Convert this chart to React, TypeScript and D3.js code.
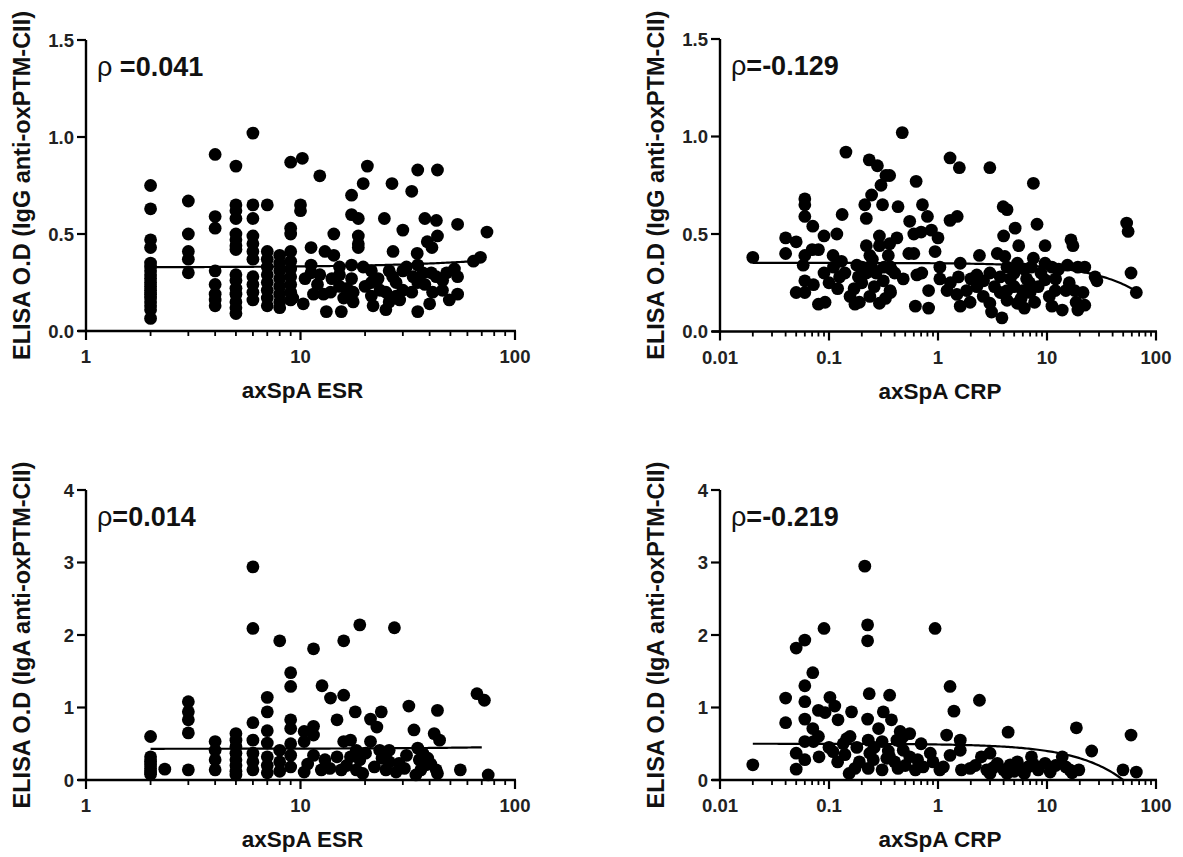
import React from 'react';
import * as d3 from 'd3';

type Pt = [number, number];

// Panel A: ESR vs IgG
const esrIgG: Pt[] = [
  [2, 0.75], [2, 0.63], [2, 0.47], [2, 0.43], [2, 0.35], [2, 0.33], [2, 0.31], [2, 0.29], [2, 0.27], [2, 0.25],
  [2, 0.23], [2, 0.21], [2, 0.19], [2, 0.17], [2, 0.15], [2, 0.13], [2, 0.11], [2, 0.065],
  [3, 0.67], [3, 0.5], [3, 0.41], [3, 0.37], [3, 0.3],
  [4, 0.91], [4, 0.59], [4, 0.53], [4, 0.31], [4, 0.24], [4, 0.19], [4, 0.16], [4, 0.13],
  [5, 0.85], [5, 0.65], [5, 0.62], [5, 0.58], [5, 0.5], [5, 0.47], [5, 0.44], [5, 0.42], [5, 0.29], [5, 0.26],
  [5, 0.22], [5, 0.19], [5, 0.15], [5, 0.12], [5, 0.09],
  [6, 1.02], [6, 0.65], [6, 0.58], [6, 0.49], [6, 0.45], [6, 0.41], [6, 0.37], [6, 0.28], [6, 0.24], [6, 0.2], [6, 0.16],
  [7, 0.65], [7, 0.41], [7, 0.37], [7, 0.33], [7, 0.29], [7, 0.25], [7, 0.21], [7, 0.17], [7, 0.13],
  [8, 0.39], [8, 0.35], [8, 0.31], [8, 0.27], [8, 0.23], [8, 0.19], [8, 0.15], [8, 0.12],
  [9, 0.87], [9, 0.53], [9, 0.5], [9, 0.41], [9, 0.36], [9, 0.32], [9, 0.28], [9, 0.24], [9, 0.2], [9, 0.16],
  [10.2, 0.89], [12.3, 0.8], [10, 0.65], [10, 0.62], [20.5, 0.85], [19.6, 0.76], [17.3, 0.7], [26.7, 0.76],
  [35.2, 0.83], [43.5, 0.83], [33, 0.72], [17.3, 0.6], [18.6, 0.58], [24.6, 0.58], [30, 0.52], [38, 0.58],
  [43, 0.57], [43.5, 0.49], [54, 0.55], [74, 0.51], [14.3, 0.5], [18.6, 0.49], [18.6, 0.45], [18.6, 0.43],
  [39, 0.46], [41, 0.43], [27, 0.41], [35, 0.4], [11.2, 0.43], [13, 0.41], [14.3, 0.39], [69, 0.38], [64, 0.36],
  [11.2, 0.34], [11.2, 0.3], [12.3, 0.29], [15.2, 0.33], [15.2, 0.29], [17.3, 0.34], [17.3, 0.27], [19.6, 0.33],
  [21.4, 0.31], [21.4, 0.25], [22.6, 0.26], [25.9, 0.31], [26.9, 0.28], [27.9, 0.25], [30, 0.31], [31.2, 0.33],
  [33.5, 0.28], [35.2, 0.34], [35.2, 0.25], [37.2, 0.3], [40.7, 0.3], [42.9, 0.28], [52.2, 0.32], [54, 0.28],
  [9.2, 0.17], [10.3, 0.14], [11.5, 0.19], [12.8, 0.19], [13.8, 0.2], [15.2, 0.23], [15.9, 0.17], [17.6, 0.2],
  [17.6, 0.15], [20, 0.23], [21.4, 0.18], [21.8, 0.13], [23.5, 0.21], [25, 0.2], [25, 0.11], [25.9, 0.15],
  [27.9, 0.18], [30, 0.21], [41.3, 0.2], [45.9, 0.21], [54, 0.19], [49.4, 0.16], [40, 0.14], [35.2, 0.1],
  [13.2, 0.1], [15.5, 0.1], [14, 0.27], [16.5, 0.22], [23, 0.27], [29, 0.16], [33, 0.2], [38, 0.24],
  [46, 0.26], [48, 0.3], [12, 0.24], [10.5, 0.27],
];

// Panel B: CRP vs IgG
const crpIgG: Pt[] = [
  [0.02, 0.38], [0.04, 0.48], [0.04, 0.4], [0.05, 0.46], [0.05, 0.2], [0.06, 0.68], [0.06, 0.65], [0.06, 0.59],
  [0.06, 0.39], [0.058, 0.34], [0.06, 0.26], [0.06, 0.2], [0.071, 0.54], [0.07, 0.42], [0.08, 0.42], [0.072, 0.24],
  [0.09, 0.49], [0.09, 0.3], [0.08, 0.14], [0.092, 0.15], [0.109, 0.39], [0.118, 0.5], [0.132, 0.6], [0.11, 0.33],
  [0.125, 0.28], [0.156, 0.18], [0.173, 0.14], [0.143, 0.92], [0.186, 0.28], [0.2, 0.25], [0.234, 0.88], [0.278, 0.85],
  [0.246, 0.7], [0.213, 0.65], [0.22, 0.58], [0.31, 0.65], [0.3, 0.75], [0.333, 0.8], [0.22, 0.44], [0.237, 0.39],
  [0.246, 0.33], [0.18, 0.34], [0.2, 0.33], [0.29, 0.49], [0.29, 0.44], [0.35, 0.39], [0.315, 0.26], [0.367, 0.2],
  [0.237, 0.18], [0.29, 0.145], [0.22, 0.3], [0.25, 0.37], [0.27, 0.3], [0.32, 0.33], [0.37, 0.32],
  [0.47, 1.02], [0.36, 0.8], [1.29, 0.89], [1.57, 0.84], [2.99, 0.84], [7.5, 0.76], [0.63, 0.77], [0.43, 0.64],
  [0.72, 0.65], [0.8, 0.59], [0.55, 0.565], [1.29, 0.57], [1.5, 0.59], [3.96, 0.64], [4.3, 0.625], [5.1, 0.53],
  [4.0, 0.49], [8.1, 0.55], [53.8, 0.556], [55.5, 0.513], [16.6, 0.47], [17.3, 0.44], [9.6, 0.44], [5.5, 0.44],
  [0.36, 0.45], [0.42, 0.48], [0.6, 0.5], [0.7, 0.51], [0.87, 0.52], [1.0, 0.48], [0.54, 0.4], [0.6, 0.4],
  [0.94, 0.41], [2.4, 0.39], [3.5, 0.4], [4.1, 0.385], [7.5, 0.376], [59, 0.3], [66, 0.2],
  [0.363, 0.333], [0.4, 0.3], [0.48, 0.27], [0.64, 0.29], [0.71, 0.3], [1.04, 0.33], [1.04, 0.27], [1.6, 0.35],
  [1.54, 0.28], [2.27, 0.29], [2.99, 0.3], [3.72, 0.28], [4.3, 0.33], [5.35, 0.35], [6.2, 0.32], [7.17, 0.33],
  [9.6, 0.35], [11.1, 0.33], [12.8, 0.32], [15.4, 0.34], [19.2, 0.33], [22.2, 0.33], [27.6, 0.28], [28.7, 0.26],
  [0.363, 0.21], [0.82, 0.21], [1.21, 0.21], [1.49, 0.19], [1.83, 0.21], [2.27, 0.23], [2.62, 0.26], [3.72, 0.2],
  [4.3, 0.21], [4.98, 0.23], [5.96, 0.21], [6.9, 0.25], [8.3, 0.23], [9.6, 0.265], [11.9, 0.21], [14.9, 0.21],
  [17.9, 0.21], [21.4, 0.2], [0.62, 0.13], [0.82, 0.12], [1.6, 0.13], [1.97, 0.15], [2.99, 0.145], [3.1, 0.1],
  [3.86, 0.07], [4.3, 0.16], [5.35, 0.145], [6.2, 0.12], [7.7, 0.15], [11.1, 0.13], [13.8, 0.11], [19.2, 0.11],
  [22.2, 0.135], [0.12, 0.22], [0.14, 0.3], [0.17, 0.22], [0.19, 0.15], [0.26, 0.23], [0.33, 0.17], [0.13, 0.36],
  [0.1, 0.25], [1.3, 0.25], [2.0, 0.27], [2.6, 0.18], [3.3, 0.23], [4.6, 0.27], [5.8, 0.17], [7.0, 0.2],
  [8.8, 0.3], [10.5, 0.18], [12, 0.27], [16, 0.25], [18.5, 0.15], [5, 0.3], [6.5, 0.27],
];

// Panel C: ESR vs IgA
const esrIgA: Pt[] = [
  [2, 0.6], [2, 0.32], [2, 0.26], [2, 0.21], [2, 0.16], [2, 0.11], [2, 0.08], [2.33, 0.15],
  [3, 1.08], [3, 0.94], [3, 0.83], [3, 0.65], [3, 0.14],
  [4, 0.53], [4, 0.41], [4, 0.28], [4, 0.14],
  [5, 0.64], [5, 0.55], [5, 0.46], [5, 0.37], [5, 0.28], [5, 0.2], [5, 0.12], [5, 0.07],
  [6, 2.94], [6, 2.09], [6, 0.79], [6, 0.55], [6, 0.37], [6, 0.25], [6, 0.14],
  [7, 1.14], [7, 0.94], [7, 0.68], [7, 0.51], [7, 0.32], [7, 0.2], [7, 0.1],
  [8, 1.92], [8, 0.41], [8, 0.25], [8, 0.12],
  [9, 1.48], [9, 1.29], [9, 0.83], [9, 0.71], [9, 0.5], [9, 0.34], [9, 0.18],
  [11.5, 1.81], [15.9, 1.92], [18.9, 2.14], [27.4, 2.1], [12.6, 1.3], [13.8, 1.13], [15.9, 1.17], [14.8, 0.83],
  [18, 0.94], [21.2, 0.84], [22.7, 0.73], [23.8, 0.94], [32, 1.02], [43.5, 0.96], [33.8, 0.69], [42, 0.64],
  [44.5, 0.55], [66.5, 1.19], [72, 1.1], [10.4, 0.67], [11.5, 0.74], [11.5, 0.62], [10.4, 0.53], [15.9, 0.53],
  [17.1, 0.55], [21.2, 0.53], [18.2, 0.41], [20.1, 0.37], [23.4, 0.41], [25.9, 0.41], [31.2, 0.34], [35.2, 0.44],
  [37.2, 0.37], [39.2, 0.3], [42.9, 0.14], [11.5, 0.34], [14.8, 0.32], [10.4, 0.11], [12.5, 0.14], [13.7, 0.16],
  [15.5, 0.14], [18.2, 0.14], [19.5, 0.09], [22.1, 0.18], [25, 0.14], [27.9, 0.11], [34.5, 0.07], [36.4, 0.14],
  [43.5, 0.09], [55.6, 0.14], [75, 0.07], [17.1, 0.32], [18.9, 0.28], [25.9, 0.25], [28.8, 0.23], [35.8, 0.28],
  [38.5, 0.21], [10.8, 0.22], [13, 0.28], [16.4, 0.2], [24, 0.3], [30.5, 0.16], [40.5, 0.22],
];

// Panel D: CRP vs IgA
const crpIgA: Pt[] = [
  [0.02, 0.21], [0.04, 1.13], [0.04, 0.79], [0.05, 1.82], [0.06, 1.93], [0.071, 1.48], [0.06, 1.3], [0.06, 1.08],
  [0.06, 0.84], [0.071, 0.71], [0.06, 0.53], [0.072, 0.53], [0.05, 0.37], [0.06, 0.28], [0.05, 0.15], [0.081, 0.32],
  [0.09, 2.09], [0.08, 0.96], [0.092, 0.93], [0.102, 1.14], [0.113, 1.02], [0.121, 0.83], [0.109, 0.39], [0.135, 0.5],
  [0.145, 0.57], [0.161, 0.94], [0.156, 0.6], [0.153, 0.09], [0.173, 0.16], [0.213, 2.95], [0.226, 2.14], [0.226, 1.92],
  [0.234, 1.19], [0.226, 0.84], [0.229, 0.55], [0.237, 0.37], [0.255, 0.28], [0.229, 0.16], [0.285, 0.71], [0.315, 0.94],
  [0.36, 1.17], [0.374, 0.83], [0.307, 0.53], [0.339, 0.3], [0.307, 0.14], [0.45, 0.67], [0.45, 0.53], [0.43, 0.16],
  [0.94, 2.09], [1.29, 1.29], [1.4, 0.95], [2.4, 1.1], [0.55, 0.64], [0.48, 0.6], [0.42, 0.55], [1.2, 0.62],
  [1.6, 0.55], [0.36, 0.32], [0.48, 0.41], [0.55, 0.32], [0.7, 0.5], [0.85, 0.37], [1.29, 0.34], [1.6, 0.41],
  [0.62, 0.14], [0.73, 0.18], [1.04, 0.14], [1.12, 0.18], [4.4, 0.66], [18.6, 0.72], [25.7, 0.4], [59, 0.62],
  [49.8, 0.14], [66, 0.11], [1.64, 0.14], [1.97, 0.16], [2.5, 0.32], [3.0, 0.37], [2.8, 0.14], [3.5, 0.23],
  [4.0, 0.14], [4.6, 0.21], [5.35, 0.25], [5.7, 0.14], [6.7, 0.18], [7.2, 0.32], [8.3, 0.14], [9.6, 0.23],
  [10.7, 0.11], [13.8, 0.32], [14.9, 0.18], [16.2, 0.14], [19.6, 0.14], [3.0, 0.09], [4.3, 0.09], [6.2, 0.09],
  [0.08, 0.6], [0.1, 0.45], [0.12, 0.25], [0.14, 0.35], [0.18, 0.45], [0.19, 0.25], [0.26, 0.45], [0.35, 0.4],
  [0.4, 0.25], [0.5, 0.2], [0.65, 0.28], [0.9, 0.25], [2.2, 0.2], [3.2, 0.17], [5, 0.12], [7.5, 0.22],
  [12, 0.2], [17, 0.1],
];

const rhoValues = [' =0.041', '=-0.129', '=0.014', '=-0.219'];
const yTitles = [
  'ELISA O.D (IgG anti-oxPTM-CII)',
  'ELISA O.D (IgG anti-oxPTM-CII)',
  'ELISA O.D (IgA anti-oxPTM-CII)',
  'ELISA O.D (IgA anti-oxPTM-CII)',
];
const xTitles = ['axSpA ESR', 'axSpA CRP', 'axSpA ESR', 'axSpA CRP'];
const esrTicks = [1, 10, 100];
const crpTicks = [0.01, 0.1, 1, 10, 100];
const igGTicks = [0, 0.5, 1.0, 1.5];
const igATicks = [0, 1, 2, 3, 4];
const fitIntercepts = [0.328, 0.352, 0.43, 0.5];
const fitSlopes = [0.0005, -0.0022, 0.0003, -0.01];
const fitStarts = [2, 0.02, 2, 0.02];
const fitEnds = [70, 66, 70, 50];

const FONT = "'Liberation Sans', Arial, sans-serif";

type PanelProps = {
  data: Pt[];
  xTicks: number[];
  yTicks: number[];
  yFmt: (v: number) => string;
  xRange: [number, number];
  yRange: [number, number];
  idx: number;
};

function Panel({ data, xTicks, yTicks, yFmt, xRange, yRange, idx }: PanelProps) {
  const xDomain: [number, number] = [xTicks[0], xTicks[xTicks.length - 1]];
  const yDomain: [number, number] = [yTicks[0], yTicks[yTicks.length - 1]];
  const x = d3.scaleLog().domain(xDomain).range(xRange);
  const y = d3.scaleLinear().domain(yDomain).range(yRange);
  const x0 = xRange[0];
  const y0 = yRange[0];

  const minor: number[] = [];
  for (let i = 0; i < xTicks.length - 1; i++) {
    for (let k = 2; k <= 9; k++) minor.push(xTicks[i] * k);
  }

  const a = fitIntercepts[idx];
  const b = fitSlopes[idx];
  const lx0 = Math.log10(fitStarts[idx]);
  const lx1 = Math.log10(fitEnds[idx]);
  const fitPts: Pt[] = d3.range(0, 201).map((i) => {
    const xv = Math.pow(10, lx0 + ((lx1 - lx0) * i) / 200);
    return [xv, Math.max(0, a + b * xv)];
  });
  const line = d3
    .line<Pt>()
    .x((d) => x(d[0]))
    .y((d) => y(d[1]));

  const xMid = (xRange[0] + xRange[1]) / 2;
  const yMid = (yRange[0] + yRange[1]) / 2;

  return (
    <g>
      {data.map((d, i) => (
        <circle key={i} cx={x(d[0])} cy={y(d[1])} r={6.4} fill="#000" />
      ))}
      <path d={line(fitPts) || ''} fill="none" stroke="#000" strokeWidth={2.2} />
      <line x1={x0} x2={x0} y1={yRange[1]} y2={y0 + 1} stroke="#000" strokeWidth={2.4} />
      <line x1={x0 - 8} x2={xRange[1] + 1} y1={y0} y2={y0} stroke="#000" strokeWidth={2.4} />
      {yTicks.map((t) => (
        <g key={'y' + t}>
          <line x1={x0 - 9} x2={x0} y1={y(t)} y2={y(t)} stroke="#000" strokeWidth={2.2} />
          <text
            x={x0 - 12}
            y={y(t)}
            dy="0.36em"
            textAnchor="end"
            fontFamily={FONT}
            fontWeight="bold"
            fontSize={18.5}
            fill="#222"
          >
            {yFmt(t)}
          </text>
        </g>
      ))}
      {minor.map((t) => (
        <line key={'m' + t} x1={x(t)} x2={x(t)} y1={y0} y2={y0 + 5} stroke="#000" strokeWidth={1.8} />
      ))}
      {xTicks.map((t) => (
        <g key={'x' + t}>
          <line x1={x(t)} x2={x(t)} y1={y0} y2={y0 + 9} stroke="#000" strokeWidth={2.2} />
          <text
            x={x(t)}
            y={y0 + 32}
            textAnchor="middle"
            fontFamily={FONT}
            fontWeight="bold"
            fontSize={18.5}
            fill="#222"
          >
            {String(t)}
          </text>
        </g>
      ))}
      <text
        x={xMid + 2}
        y={y0 + 67}
        textAnchor="middle"
        fontFamily={FONT}
        fontWeight="bold"
        fontSize={22.5}
        fill="#111"
      >
        {xTitles[idx]}
      </text>
      <text
        transform={`translate(${x0 - 56},${yMid}) rotate(-90)`}
        textAnchor="middle"
        fontFamily={FONT}
        fontWeight="bold"
        fontSize={23.5}
        fill="#111"
      >
        {yTitles[idx]}
      </text>
      <text x={x0 + 11} y={yRange[1] + 36} fontFamily={FONT} fontSize={27} fill="#111">
        <tspan fontWeight="normal">ρ</tspan>
        <tspan fontWeight="bold" style={{ whiteSpace: 'pre' }}>{rhoValues[idx]}</tspan>
      </text>
    </g>
  );
}

export default function App() {
  const fmtG = d3.format('.1f');
  const fmtA = d3.format('d');
  return (
    <svg
      width={1183}
      height={857}
      style={{ position: 'absolute', left: 0, top: 0, background: '#fff' }}
      xmlns="http://www.w3.org/2000/svg"
    >
      <rect width={1183} height={857} fill="#fff" />
      <Panel data={esrIgG} xTicks={esrTicks} yTicks={igGTicks} yFmt={fmtG} xRange={[86, 515]} yRange={[331, 40]} idx={0} />
      <Panel data={crpIgG} xTicks={crpTicks} yTicks={igGTicks} yFmt={fmtG} xRange={[720, 1156]} yRange={[331.5, 39]} idx={1} />
      <Panel data={esrIgA} xTicks={esrTicks} yTicks={igATicks} yFmt={fmtA} xRange={[86, 515]} yRange={[780, 490]} idx={2} />
      <Panel data={crpIgA} xTicks={crpTicks} yTicks={igATicks} yFmt={fmtA} xRange={[720, 1156]} yRange={[780, 490]} idx={3} />
    </svg>
  );
}
